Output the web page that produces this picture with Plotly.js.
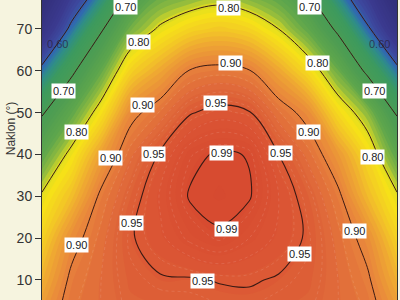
<!DOCTYPE html>
<html>
<head>
<meta charset="utf-8">
<script src="https://cdn.plot.ly/plotly-3.0.1.min.js"></script>
<style>
  html, body { margin: 0; padding: 0; background: #f6f4df; }
  #chart { width: 400px; height: 300px; }
</style>
</head>
<body>
<div id="chart"></div>
<script>
// Orientation (azimuth, °) – columns of the grid
const orientation = [-90, -75, -60, -45, -30, -15, 0, 15, 30, 45, 60, 75, 90];
// Tilt "Naklon" (°) – rows of the grid
const naklon = [0, 10, 20, 30, 40, 50, 60, 70, 80];
// Relative irradiation values (one row per tilt)
const ratio = [
  [0.884, 0.915, 0.925, 0.935, 0.935, 0.938, 0.940, 0.940, 0.937, 0.935, 0.925, 0.915, 0.884],
  [0.858, 0.907, 0.925, 0.942, 0.948, 0.948, 0.951, 0.952, 0.948, 0.942, 0.925, 0.905, 0.858],
  [0.832, 0.888, 0.920, 0.948, 0.962, 0.978, 0.987, 0.975, 0.962, 0.947, 0.920, 0.888, 0.832],
  [0.805, 0.848, 0.907, 0.940, 0.967, 0.992, 0.997, 0.992, 0.965, 0.940, 0.907, 0.852, 0.805],
  [0.754, 0.811, 0.872, 0.922, 0.953, 0.984, 0.993, 0.989, 0.950, 0.920, 0.878, 0.825, 0.754],
  [0.695, 0.756, 0.817, 0.890, 0.917, 0.948, 0.959, 0.952, 0.917, 0.888, 0.825, 0.780, 0.695],
  [0.612, 0.690, 0.760, 0.832, 0.866, 0.902, 0.910, 0.902, 0.866, 0.823, 0.766, 0.689, 0.612],
  [0.528, 0.611, 0.694, 0.770, 0.806, 0.830, 0.840, 0.830, 0.800, 0.757, 0.690, 0.607, 0.528],
  [0.470, 0.550, 0.610, 0.700, 0.750, 0.760, 0.770, 0.757, 0.740, 0.690, 0.610, 0.550, 0.470]
];
// Y tick values
const yTicks = [10, 20, 30, 40, 50, 60, 70];
// Contour label texts and where they sit (orientation, tilt)
const labelText = ["0.70","0.80","0.70","0.80","0.80","0.70","0.90","0.70","0.90","0.95","0.80","0.90",
                   "0.90","0.95","0.99","0.95","0.80","0.95","0.99","0.90","0.90","0.95","0.95"];
const labelX = [-47.5, 4.5, 45.5, -41.0, 49.5, -78.9, 5.6, 78.4, -38.9, -2.0, -72.3, 45.0,
                -55.1, -33.4, 1.0, 30.8, 77.4, -44.5, 3.5, -72.3, 68.3, 40.4, -8.6];
const labelY = [75.2, 75.0, 75.2, 66.9, 61.9, 55.2, 61.9, 55.2, 51.8, 52.3, 45.4, 45.4,
                39.2, 40.1, 40.4, 40.4, 39.4, 23.6, 22.2, 18.4, 21.7, 16.2, 9.8];
const darkLabelText = ["0.60", "0.60"];
const darkLabelX = [-81.9, 80.9];
const darkLabelY = [66.4, 66.4];

const colorscale = [
  [0.00, '#33307c'],
  [0.12, '#3b3a8f'],
  [0.18, '#3d4aa0'],
  [0.22, '#2f6cb0'],
  [0.26, '#2f8e88'],
  [0.32, '#3c9a5e'],
  [0.44, '#4e9d52'],
  [0.52, '#5fa64c'],
  [0.57, '#8fbb3e'],
  [0.60, '#d2d626'],
  [0.63, '#f6e416'],
  [0.68, '#f4cc24'],
  [0.74, '#eea434'],
  [0.80, '#e8843c'],
  [0.86, '#e06a3a'],
  [0.92, '#db5634'],
  [1.00, '#d64a30']
];

const lineColor = '#3a1a14';

const traces = [
  {
    type: 'contour', x: orientation, y: naklon, z: ratio,
    colorscale: colorscale, zmin: 0.5, zmax: 1.0, showscale: false,
    contours: { coloring: 'fill', start: 0.5, end: 1.0, size: 0.008 },
    line: { width: 0, smoothing: 1 }, hoverinfo: 'skip'
  },
  {
    type: 'contour', x: orientation, y: naklon, z: ratio, showscale: false,
    contours: { coloring: 'none', start: 0.915, end: 0.985, size: 0.01 },
    line: { width: 0.8, color: 'rgba(255,255,255,0.14)', dash: 'dot', smoothing: 1 }, hoverinfo: 'skip'
  },
  {
    type: 'contour', x: orientation, y: naklon, z: ratio, showscale: false,
    contours: { coloring: 'none', start: 0.6, end: 0.9, size: 0.1 },
    line: { width: 1, color: lineColor, smoothing: 1 }, hoverinfo: 'skip'
  },
  {
    type: 'contour', x: orientation, y: naklon, z: ratio, showscale: false,
    contours: { coloring: 'none', start: 0.95, end: 0.95, size: 0.1 },
    line: { width: 1.1, color: lineColor, smoothing: 1 }, hoverinfo: 'skip'
  },
  {
    type: 'contour', x: orientation, y: naklon, z: ratio, showscale: false,
    contours: { coloring: 'none', start: 0.99, end: 0.99, size: 0.1 },
    line: { width: 1.1, color: lineColor, smoothing: 1 }, hoverinfo: 'skip'
  }
];

const annotations = [];
for (let i = 0; i < labelText.length; i++) {
  annotations.push({
    x: labelX[i], y: labelY[i], xref: 'x', yref: 'y', text: labelText[i], showarrow: false,
    font: { family: 'Liberation Sans, Arial, sans-serif', size: 11, color: '#222' },
    bgcolor: '#ffffff', borderpad: 1
  });
}
for (let i = 0; i < darkLabelText.length; i++) {
  annotations.push({
    x: darkLabelX[i], y: darkLabelY[i], xref: 'x', yref: 'y', text: darkLabelText[i], showarrow: false,
    font: { family: 'Liberation Sans, Arial, sans-serif', size: 11, color: 'rgba(40,30,60,0.75)' }
  });
}
annotations.push({
  xref: 'paper', yref: 'paper', x: -0.112, y: 0.57, text: 'Naklon (°)', textangle: -90,
  showarrow: false, font: { family: 'Liberation Sans, Arial, sans-serif', size: 12, color: '#333' }
});

const layout = {
  width: 400, height: 300,
  margin: { l: 42, r: 3, t: 0, b: 0, pad: 0 },
  paper_bgcolor: '#f6f4df', plot_bgcolor: '#f6f4df',
  showlegend: false,
  xaxis: { range: [-90, 90], visible: false, fixedrange: true },
  yaxis: {
    range: [5.21, 76.93], tickvals: yTicks, ticks: 'outside', ticklen: 6, tickwidth: 1,
    tickcolor: '#333', showline: true, linecolor: '#333', linewidth: 1, mirror: true,
    showgrid: false, zeroline: false,
    tickfont: { family: 'Liberation Sans, Arial, sans-serif', size: 14, color: '#333' }
  },
  annotations: annotations
};

Plotly.newPlot('chart', traces, layout, { staticPlot: true, displayModeBar: false });
</script>
</body>
</html>
